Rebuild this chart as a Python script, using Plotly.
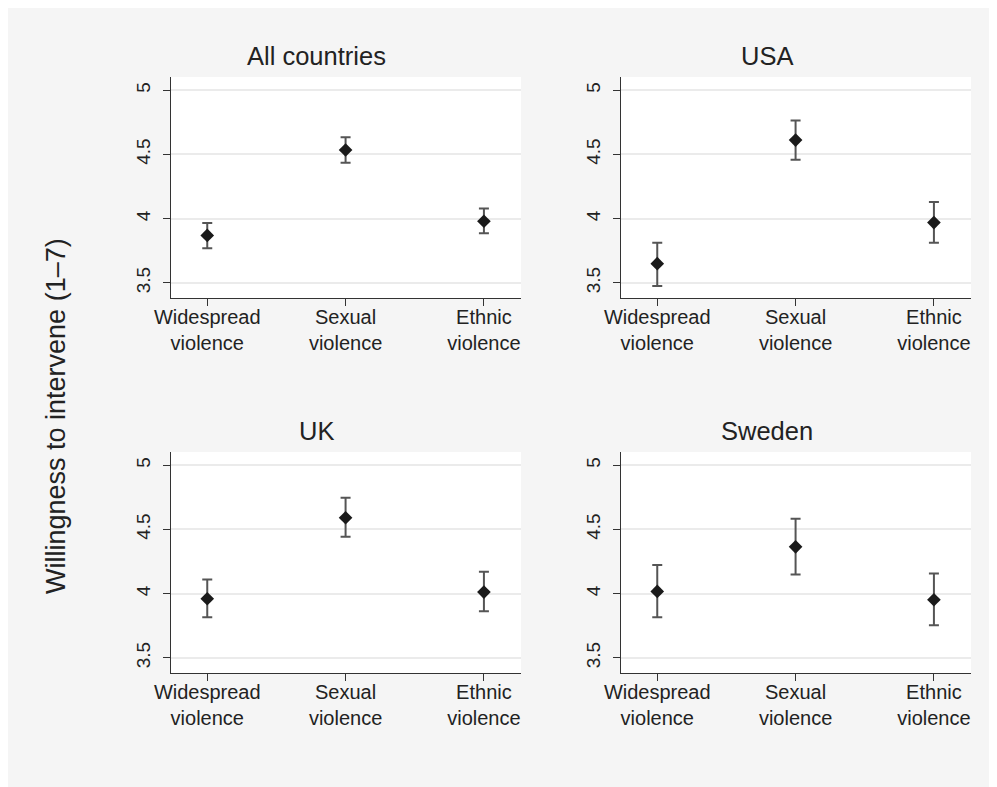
import plotly.graph_objects as go

# ---- data ----
categories = ["Widespread violence", "Sexual violence", "Ethnic violence"]
tick_labels = ["Widespread<br>violence", "Sexual<br>violence", "Ethnic<br>violence"]
panel_titles = ["All countries", "USA", "UK", "Sweden"]

all_mean = [3.87, 4.535, 3.98]
all_lo = [3.77, 4.435, 3.886]
all_hi = [3.966, 4.635, 4.08]

usa_mean = [3.65, 4.612, 3.97]
usa_lo = [3.477, 4.459, 3.813]
usa_hi = [3.813, 4.764, 4.13]

uk_mean = [3.961, 4.591, 4.013]
uk_lo = [3.816, 4.443, 3.863]
uk_hi = [4.111, 4.746, 4.171]

swe_mean = [4.018, 4.365, 3.953]
swe_lo = [3.816, 4.15, 3.754]
swe_hi = [4.223, 4.583, 4.158]

y_tickvals = [3.5, 4, 4.5, 5]
y_ticktext = ["3.5", "4", "4.5", "5"]
y_title = "Willingness to intervene (1\u20137)"

# ---- layout geometry (page pixels; figure sits at an 8px page offset) ----
OFF = 8
W, H = 997 - OFF, 787 - OFF
FONT = "Liberation Sans, Arial, sans-serif"
panel_boxes = [  # x0, x1, y0(top), y1(bottom)
    (171, 521, 77, 298),
    (621, 971, 77, 298),
    (171, 521, 452, 673),
    (621, 971, 452, 673),
]
title_x = [316.5, 766.5, 316.5, 766.5]

def fx(p):
    return (p - OFF) / W

def fy(p):
    return 1 - (p - OFF) / H

series = [
    (all_mean, all_lo, all_hi),
    (usa_mean, usa_lo, usa_hi),
    (uk_mean, uk_lo, uk_hi),
    (swe_mean, swe_lo, swe_hi),
]

fig = go.Figure()
annotations = []
for i, ((m, lo, hi), box, title) in enumerate(zip(series, panel_boxes, panel_titles)):
    k = "" if i == 0 else str(i + 1)
    fig.add_trace(go.Scatter(
        x=categories, y=m,
        xaxis="x" + k, yaxis="y" + k,
        mode="markers",
        marker=dict(symbol="diamond", size=10.5, color="#1a1a1a"),
        error_y=dict(type="data",
                     array=[h - v for h, v in zip(hi, m)],
                     arrayminus=[v - l for v, l in zip(m, lo)],
                     color="#555555", thickness=2, width=5),
        showlegend=False,
        hoverinfo="skip",
    ))
    x0, x1, y0, y1 = box
    fig.layout["xaxis" + k] = dict(
        domain=[fx(x0), fx(x1)], anchor="y" + k,
        type="category", categoryorder="array", categoryarray=categories,
        range=[-0.262, 2.268],
        tickvals=categories, ticktext=tick_labels,
        showline=True, linecolor="#333333", linewidth=1.3,
        ticks="outside", ticklen=7, tickwidth=1.3, tickcolor="#333333",
        ticklabelstandoff=-6,
        showgrid=False, zeroline=False, automargin=False,
        tickfont=dict(family=FONT, size=20, color="#222222"),
        fixedrange=True,
    )
    fig.layout["yaxis" + k] = dict(
        domain=[fy(y1), fy(y0)], anchor="x" + k,
        range=[3.383, 5.103],
        tickvals=y_tickvals, ticktext=y_ticktext, tickangle=-90,
        showline=True, linecolor="#333333", linewidth=1.3,
        ticks="outside", ticklen=7, tickwidth=1.3, tickcolor="#333333",
        ticklabelstandoff=5,
        showgrid=True, gridcolor="#ebebeb", gridwidth=1.5, zeroline=False,
        automargin=False,
        tickfont=dict(family=FONT, size=19, color="#222222"),
        fixedrange=True,
    )
    annotations.append(dict(
        text=title, xref="paper", yref="paper",
        x=fx(title_x[i]), y=fy(y0 - 21), xanchor="center", yanchor="middle",
        showarrow=False, font=dict(family=FONT, size=25.5, color="#222222"),
    ))

annotations.append(dict(
    text=y_title, xref="paper", yref="paper",
    x=fx(56), y=fy(416), xanchor="center", yanchor="middle", textangle=-90,
    showarrow=False, font=dict(family=FONT, size=27, color="#222222"),
))

fig.update_layout(
    width=W, height=H,
    margin=dict(l=0, r=0, t=0, b=0, autoexpand=False),
    paper_bgcolor="#f5f5f5",
    plot_bgcolor="#ffffff",
    annotations=annotations,
    showlegend=False,
)

fig.write_html("out.html")
